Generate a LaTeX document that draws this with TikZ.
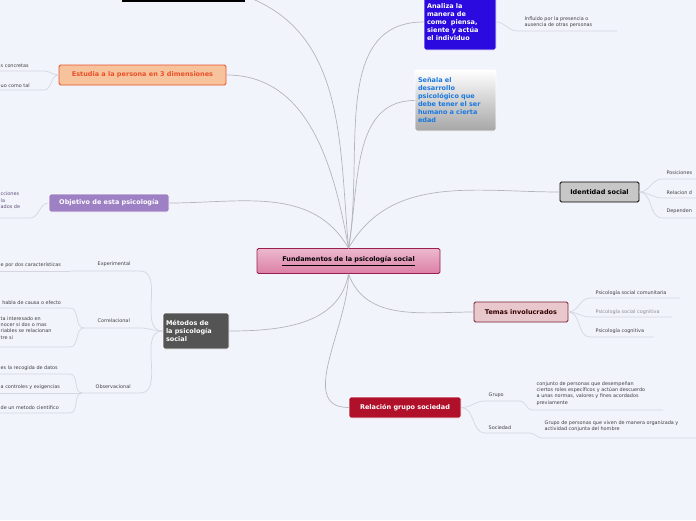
\documentclass[tikz,border=0pt]{standalone}
\usepackage{fontspec}
\setmainfont{DejaVu Sans}
\definecolor{bgc}{HTML}{F2F4FC}
\definecolor{linec}{HTML}{B4B4BC}
\definecolor{leafc}{HTML}{D4D6E0}
\definecolor{orfill}{HTML}{F7C39C}
\definecolor{ordraw}{HTML}{E8502A}
\definecolor{purfill}{HTML}{9E80C4}
\definecolor{bluefill}{HTML}{2A0ADE}
\definecolor{bluetxt}{HTML}{1A78E0}
\definecolor{pinkfill}{HTML}{DC7FA6}
\definecolor{pinkdraw}{HTML}{9A2050}
\definecolor{temfill}{HTML}{E8C8CC}
\definecolor{temdraw}{HTML}{7A2030}
\definecolor{redfill}{HTML}{B0102A}
\tikzset{
  box/.style={draw, rounded corners=1.5pt, font=\bfseries\fontsize{6.5}{8}\selectfont,
    align=left, inner sep=3pt, line width=0.8pt},
  leaf/.style={font=\fontsize{4.9}{6.2}\selectfont, anchor=south west, inner sep=0.5pt,
    align=left, text=black!75},
  branch/.style={draw=linec, line width=0.7pt},
  twig/.style={draw=leafc, line width=0.7pt}
}
\begin{document}
\begin{tikzpicture}[x=1pt,y=-1pt]
\fill[bgc] (0,0) rectangle (696,520);
\useasboundingbox (0,0) rectangle (696,520);
\begin{scope}
\clip (0,0) rectangle (696,520);

% nodos principales
\node[box, draw=pinkdraw, top color=pinkfill!55, bottom color=pinkfill, text=black,
  minimum width=183, minimum height=25] (centro) at (348.5,261) {\underline{Fundamentos de la psicología social}};
\fill[black] (122,-10) rectangle (245,2);
\coordinate (negro) at (245,-4);
\node[box, fill=orfill, draw=ordraw, text=ordraw, minimum width=167, minimum height=20] (estudia) at (142.5,75) {Estudia a la persona en 3 dimensiones};
\node[box, fill=purfill, draw=white, text=white, minimum width=120, minimum height=18] (objetivo) at (109,203) {Objetivo de esta psicología};
\node[box, fill=black!67, draw=white, text=white, text width=60, minimum height=36] (metodos) at (196,331) {Métodos de\\la psicología\\social};
\node[box, fill=bluefill, draw=white, text=white, text width=66, minimum height=56] (analiza) at (460,22) {Analiza la\\manera de\\como\ \ piensa,\\siente y actúa\\el individuo};
\node[box, top color=white, bottom color=black!35, draw=white, text=bluetxt, text width=75, minimum height=61] (senala) at (455.5,100.5) {Señala el\\desarrollo\\psicológico que\\debe tener el ser\\humano a cierta\\edad};
\node[box, fill=black!22, draw=black, text=black, minimum width=79, minimum height=20] (identidad) at (599.5,192) {Identidad social};
\node[box, fill=temfill, draw=temdraw, text=black!80!red, minimum width=94, minimum height=20] (temas) at (521,312) {Temas involucrados};
\node[box, fill=redfill, draw=white, text=white, minimum width=112, minimum height=21] (relacion) at (405,407.5) {Relación grupo sociedad};

% ramas desde el centro
\path[branch] (centro.north) to[out=95,in=-20] (negro);
\path[branch] (centro.north) to[out=100,in=0] (estudia.east);
\path[branch] (centro.north) to[out=120,in=0] (objetivo.east);
\path[branch] (centro.south) to[out=-100,in=0] (metodos.east);
\path[branch] (centro.north) to[out=80,in=180] (analiza.west);
\path[branch] (centro.north) to[out=80,in=180] (senala.west);
\path[branch] (centro.north) to[out=60,in=180] (identidad.west);
\path[branch] (centro.south) to[out=-70,in=180] (temas.west);
\path[branch] (centro.south) to[out=-90,in=180] (relacion.west);

% hojas de Estudia
\node[leaf] (e1) at (0,68) {s concretas};
\node[leaf] (e2) at (0,88) {uo como tal};
\path[twig] (estudia.west) to[out=180,in=0] (44,71) -- (0,71);
\path[twig] (estudia.west) to[out=180,in=0] (44,90) -- (0,90);

% hojas de Objetivo
\node[leaf] (o1) at (0,209) {\textcolor{purfill!60!black}{cciones}\\\textcolor{purfill!60!black}{la}\\\textcolor{purfill!60!black}{ados de}};
\path[twig] (objetivo.west) to[out=180,in=0] (30,218) -- (0,218);

% metodos
\node[leaf] (exp) at (97,267) {Experimental};
\node[leaf] (cor) at (97,323) {Correlacional};
\node[leaf] (obs) at (95,389) {Observacional};
\path[twig] (metodos.west) to[out=180,in=0] (140,271) -- (70,271);
\path[twig] (metodos.west) to[out=180,in=0] (140,328) -- (84,328);
\path[twig] (metodos.west) to[out=180,in=0] (140,393) -- (82,393);
\node[leaf] (x1) at (0,268) {e por dos características};
\path[twig] (70,271) -- (0,271);
\node[leaf] (c1) at (0,305) {\ habla de causa o efecto};
\node[leaf, anchor=north west] (c2) at (0,316) {ta interesado en\\nocer si dos o mas\\riables se relacionan\\tre si};
\path[twig] (84,328) to[out=180,in=0] (70,308) -- (0,308);
\path[twig] (84,328) to[out=180,in=0] (70,347) -- (0,347);
\node[leaf] (v1) at (0,371) {es la recogida de datos};
\node[leaf] (v2) at (0,390) {a controles y exigencias};
\node[leaf] (v3) at (0,410) {de un metodo cientifico};
\path[twig] (82,393) to[out=180,in=0] (70,374) -- (0,374);
\path[twig] (82,393) -- (0,393);
\path[twig] (82,393) to[out=180,in=0] (70,413) -- (0,413);

% analiza
\node[leaf] (a1) at (524,28) {Influido por la presencia o\\ausencia de otras personas};
\path[twig] (analiza.east) to[out=0,in=180] (517,31) -- (617,31);

% identidad
\node[leaf] (i1) at (666,175) {Posiciones};
\node[leaf] (i2) at (666,195) {Relacion d};
\node[leaf] (i3) at (666,214) {Dependen};
\path[twig] (identidad.east) to[out=0,in=180] (662,179) -- (696,179);
\path[twig] (identidad.east) to[out=0,in=180] (662,198) -- (696,198);
\path[twig] (identidad.east) to[out=0,in=180] (662,218) -- (696,218);

% temas
\node[leaf] (t1) at (595,296) {Psicología social comunitaria};
\node[leaf, text=black!45] (t2) at (595,315) {Psicología social cognitiva};
\node[leaf] (t3) at (595,334) {Psicología cognitiva};
\path[twig] (temas.east) to[out=0,in=180] (590,298) -- (680,298);
\path[twig] (temas.east) to[out=0,in=180] (590,317) -- (672,317);
\path[twig] (temas.east) to[out=0,in=180] (590,337) -- (654,337);

% relacion
\node[leaf] (g) at (488,398) {Grupo};
\node[leaf] (s) at (488,430) {Sociedad};
\path[twig] (relacion.east) to[out=0,in=180] (485,401) -- (520,401);
\path[twig] (relacion.east) to[out=0,in=180] (485,433) -- (530,433);
\node[leaf, anchor=north west] (g1) at (536,381) {conjunto de personas que desempeñan\\ciertos roles específicos y actúan descuerdo\\a unas normas, valores y fines acordados\\previamente};
\node[leaf, anchor=north west] (s1) at (544,420) {Grupo de personas que viven de manera organizada y\\actividad conjunta del hombre};
\path[twig] (520,401) to[out=0,in=180] (532,410) -- (663,410);
\path[twig] (530,433) to[out=0,in=180] (542,438) -- (696,438);
\end{scope}
\end{tikzpicture}
\end{document}
